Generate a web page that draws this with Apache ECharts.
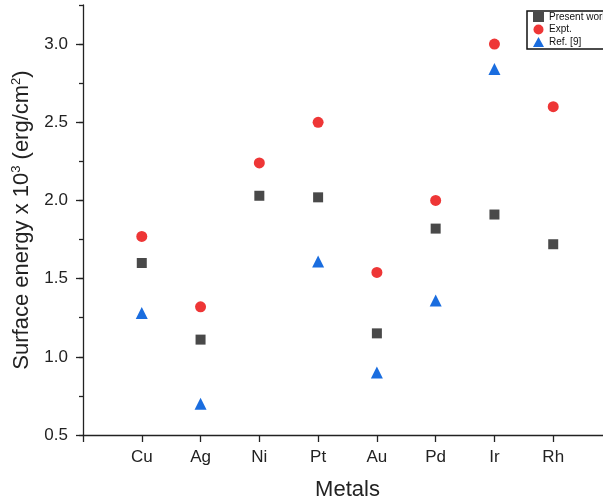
<!DOCTYPE html>
<html><head><meta charset="utf-8">
<script src="https://cdn.jsdelivr.net/npm/echarts@6/dist/echarts.min.js"></script>
<style>html,body{margin:0;padding:0;background:#fff}#c{width:603px;height:504px}</style>
</head><body><div id="c"></div>
<script>
var metals = ['Cu','Ag','Ni','Pt','Au','Pd','Ir','Rh'];
var present = [1.60,1.11,2.03,2.02,1.15,1.82,1.91,1.72];
var expt = [1.77,1.32,2.24,2.50,1.54,2.00,3.00,2.60];
var ref9 = [1.28,0.70,null,1.61,0.90,1.36,2.84,null];

function pts(arr){ var o=[]; arr.forEach(function(v,i){ if(v!==null) o.push([i+1,v]); }); return o; }

var chart = echarts.init(document.getElementById('c'));
var font = 'Liberation Sans, Arial, sans-serif';
chart.setOption({
  animation:false,
  textStyle:{fontFamily:font},
  grid:{left:83, top:5, width:529, height:430, outerBoundsMode:'none', containLabel:false},
  legend:{
    orient:'vertical', left:527, top:11, itemWidth:11, itemHeight:10, itemGap:2.5,
    padding:[1,8,2,6], borderColor:'#111', borderWidth:1.5,
    textStyle:{fontSize:10, color:'#111', fontFamily:font},
    data:['Present work','Expt.','Ref. [9]']
  },
  xAxis:{
    type:'value', min:0, max:9, interval:1,
    name:'Metals', nameLocation:'middle', nameGap:44,
    nameTextStyle:{fontSize:22, color:'#222'},
    axisLine:{lineStyle:{color:'#222', width:1.3}},
    axisTick:{length:7, lineStyle:{color:'#222', width:1.3}},
    axisLabel:{fontSize:17, color:'#222', margin:14, formatter:function(v){ return metals[v-1]||''; }},
    splitLine:{show:false}
  },
  yAxis:[{
    type:'value', min:0.5, max:3.25, interval:0.5,
    name:'Surface energy x 10{sup|3} (erg/cm{sup|2})', nameLocation:'middle', nameGap:50,
    nameTextStyle:{fontSize:22, color:'#222', rich:{sup:{fontSize:13, verticalAlign:'top', padding:[0,0,10,0]}}},
    axisLine:{lineStyle:{color:'#222', width:1.3}},
    axisTick:{length:7, lineStyle:{color:'#222', width:1.3}},
    axisLabel:{fontSize:17, color:'#222', margin:15, showMaxLabel:false, formatter:function(v){return v.toFixed(1);}},
    splitLine:{show:false}
  },{
    type:'value', min:0.5, max:3.25, interval:0.25, position:'left',
    axisLine:{show:false}, axisLabel:{show:false},
    axisTick:{length:4, lineStyle:{color:'#222', width:1.3}},
    splitLine:{show:false}
  }],
  series:[
    {name:'Present work', type:'scatter', symbol:'rect', symbolSize:10, itemStyle:{color:'#494949', opacity:1}, data:pts(present)},
    {name:'Expt.', type:'scatter', symbol:'circle', symbolSize:11, itemStyle:{color:'#ee3636', opacity:1}, data:pts(expt)},
    {name:'Ref. [9]', type:'scatter', symbol:'triangle', symbolSize:12, itemStyle:{color:'#1a6ddf', opacity:1}, data:pts(ref9)}
  ]
});
</script></body></html>
